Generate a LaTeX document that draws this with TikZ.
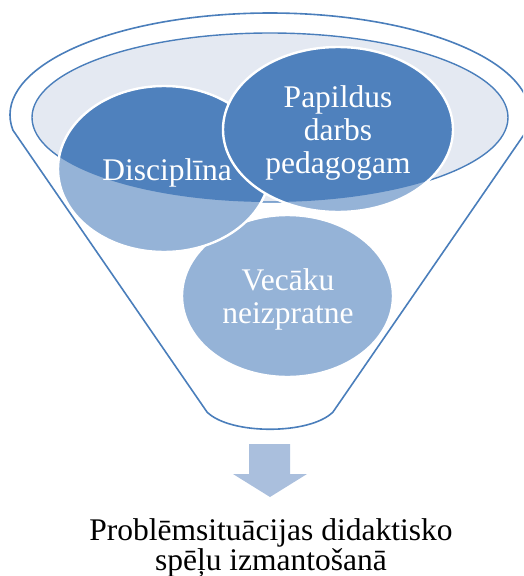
\documentclass[tikz,border=0pt]{standalone}
\usepackage{fontspec}
\setmainfont{Liberation Serif}
\definecolor{darkblue}{HTML}{4F81BD}
\definecolor{lightblue}{HTML}{95B3D7}
\definecolor{innerfill}{HTML}{E4E9F2}
\definecolor{funnelline}{HTML}{4A7EBB}
\definecolor{arrowblue}{HTML}{AABFDD}
\tikzset{
  funnel/.style={draw=funnelline, line width=1.6pt, line join=round},
  bubbletext/.style={text=white, align=center, font=\fontsize{31.5}{33}\selectfont, inner sep=0pt},
  resulttext/.style={text=black, align=center, font=\fontsize{31.5}{30}\selectfont, inner sep=0pt},
  bubbleborder/.style={draw=white, line width=2.4pt}
}
\begin{document}
\begin{tikzpicture}[x=1pt,y=-1pt]
\useasboundingbox (0,0) rectangle (523,576);
\clip (0,0) rectangle (523,576);
% outer funnel
\draw[funnel] (270,115) ++(171.5:260 and 102)
  arc[start angle=171.5, end angle=368.5, x radius=260, y radius=102]
  -- (333,412) .. controls (310,435) and (230,435) .. (207,412) -- cycle;
% inner top ellipse
\draw[funnel, fill=innerfill, line width=1.4pt] (270,117.5) ellipse[x radius=238, y radius=84.5];
% bubbles: light outside, dark inside the top ellipse
\foreach \cx/\cy/\rx/\ry in {287.5/296/105.5/81, 164/169/106/83, 338/129.5/115/82.5}{
  \fill[lightblue] (\cx,\cy) ellipse[x radius=\rx, y radius=\ry];
  \begin{scope}
    \clip (270,117.5) ellipse[x radius=238, y radius=84.5];
    \fill[darkblue] (\cx,\cy) ellipse[x radius=\rx, y radius=\ry];
  \end{scope}
  \draw[bubbleborder] (\cx,\cy) ellipse[x radius=\rx, y radius=\ry];
}
\node[bubbletext] (vec) at (288,299) {Vecāku\\neizpratne};
\node[bubbletext] (dis) at (167,173) {Disciplīna};
\node[bubbletext] (pap) at (338,133) {Papildus\\darbs\\pedagogam};
% block arrow
\fill[arrowblue] (249,444) -- (290,444) -- (290,474) -- (307,474) -- (270,497)
  -- (233,474) -- (249,474) -- cycle;
\node[resulttext] (res) at (271,548) {Problēmsituācijas didaktisko\\spēļu izmantošanā};
\end{tikzpicture}
\end{document}
